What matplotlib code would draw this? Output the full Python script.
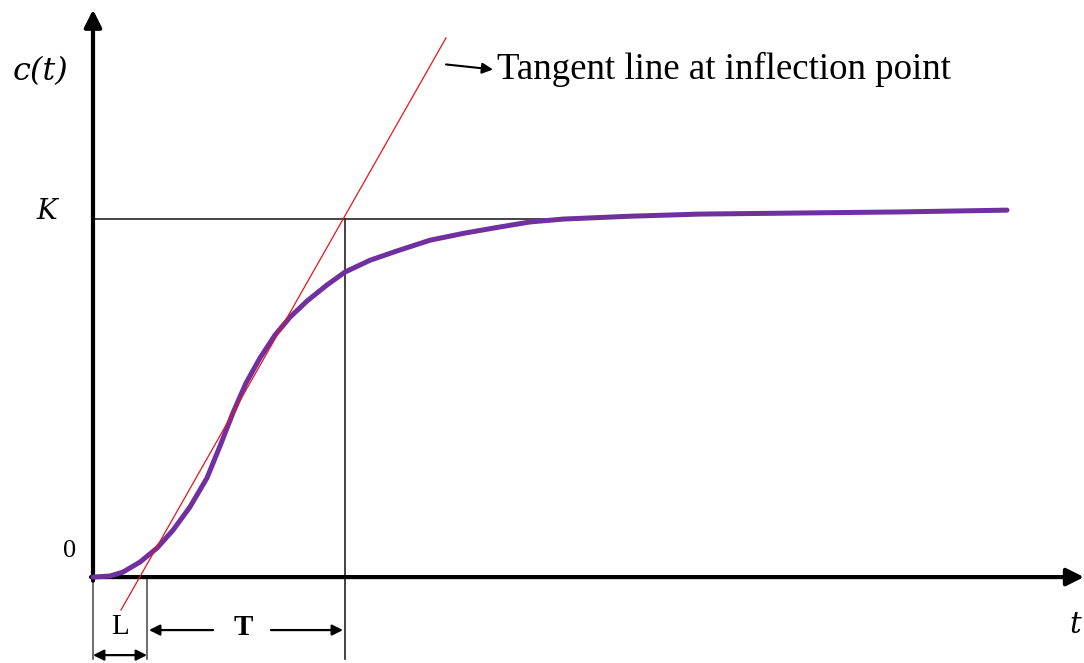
import matplotlib
matplotlib.use("Agg")
import matplotlib.pyplot as plt

# Step response c(t) of a first-order-plus-dead-time process (K = 1)
t_vals = [0.00, 0.17, 0.30, 0.47, 0.64, 0.80, 0.97, 1.14, 1.27, 1.40, 1.53,
          1.67, 1.82, 1.97, 2.14, 2.34, 2.52, 2.77, 3.04, 3.37, 3.72, 4.07,
          4.37, 4.70, 5.37, 6.07, 7.07, 8.07, 9.14]
c_vals = [0.000, 0.003, 0.014, 0.042, 0.081, 0.131, 0.196, 0.277, 0.366,
          0.459, 0.542, 0.612, 0.676, 0.726, 0.771, 0.816, 0.852, 0.885,
          0.911, 0.941, 0.961, 0.978, 0.992, 1.000, 1.008, 1.014, 1.017,
          1.020, 1.025]

# Tangent at the inflection point
tangent_t = [0.28, 3.53]
tangent_c = [-0.092, 1.506]

K = 1.0      # steady-state gain
L = 0.54     # apparent dead time
T = 1.98     # time constant

fig = plt.figure(figsize=(10.84, 6.63), dpi=100)
ax = fig.add_axes([0, 0, 1, 1])
ax.set_xlim(-0.93, 9.91)
ax.set_ylim(-0.240, 1.612)
ax.axis("off")

serif = "Liberation Serif"
mathfont = "DejaVu Serif"

# axes with arrowheads
ax.annotate("", xy=(9.91, 0), xytext=(-0.02, 0),
            arrowprops=dict(arrowstyle="-|>", lw=3.0, color="black",
                            mutation_scale=26, shrinkA=0, shrinkB=0))
ax.annotate("", xy=(0, 1.585), xytext=(0, -0.01),
            arrowprops=dict(arrowstyle="-|>", lw=3.0, color="black",
                            mutation_scale=26, shrinkA=0, shrinkB=0))

# reference lines: K level and end of T
ax.plot([0, 4.70], [K, K], color="#444444", lw=1.4, zorder=2)
ax.plot([L + T, L + T], [K, -0.23], color="#222222", lw=1.2, zorder=2)

# extension lines below the time axis
ax.plot([0, 0], [0, -0.23], color="#555555", lw=1.2)
ax.plot([L, L], [0, -0.23], color="#555555", lw=1.2)

# response curve and tangent
ax.plot(t_vals, c_vals, color="#7030A0", lw=3.6, solid_joinstyle="round",
        solid_capstyle="round", zorder=4)
ax.plot(tangent_t, tangent_c, color="#E8131B", lw=0.9, zorder=5)

# dimension arrows for L and T
ax.annotate("", xy=(0, -0.218), xytext=(L, -0.218),
            arrowprops=dict(arrowstyle="<|-|>", lw=1.6, color="black",
                            mutation_scale=16, shrinkA=0, shrinkB=0))
ax.annotate("", xy=(L + 0.02, -0.148), xytext=(L + 0.66, -0.148),
            arrowprops=dict(arrowstyle="-|>", lw=1.6, color="black",
                            mutation_scale=16, shrinkA=0, shrinkB=0))
ax.annotate("", xy=(L + T - 0.02, -0.148), xytext=(L + 1.24, -0.148),
            arrowprops=dict(arrowstyle="-|>", lw=1.6, color="black",
                            mutation_scale=16, shrinkA=0, shrinkB=0))
ax.text(L / 2, -0.140, "L", family=serif, fontsize=21,
        ha="center", va="center")
ax.text(L + 0.96, -0.140, "T", family=serif, fontsize=21, fontweight="bold",
        ha="center", va="center")

# axis labels
ax.text(-0.52, 1.412, "c(t)", family=mathfont, style="italic", fontsize=23,
        ha="center", va="center")
ax.text(-0.46, 1.020, "K", family=mathfont, style="italic", fontsize=20,
        ha="center", va="center")
ax.text(-0.23, 0.072, "0", family=serif, fontsize=19,
        ha="center", va="center")
ax.text(9.82, -0.135, "t", family=mathfont, style="italic", fontsize=21,
        ha="center", va="center")

# annotation for the tangent line
ax.annotate("", xy=(4.00, 1.418), xytext=(3.53, 1.432),
            arrowprops=dict(arrowstyle="-|>", lw=1.5, color="black",
                            mutation_scale=16, shrinkA=0, shrinkB=0))
ax.text(4.04, 1.418, "Tangent line at inflection point", family=serif,
        fontsize=26.6, ha="left", va="center")

fig.savefig("out.png", dpi=100)
